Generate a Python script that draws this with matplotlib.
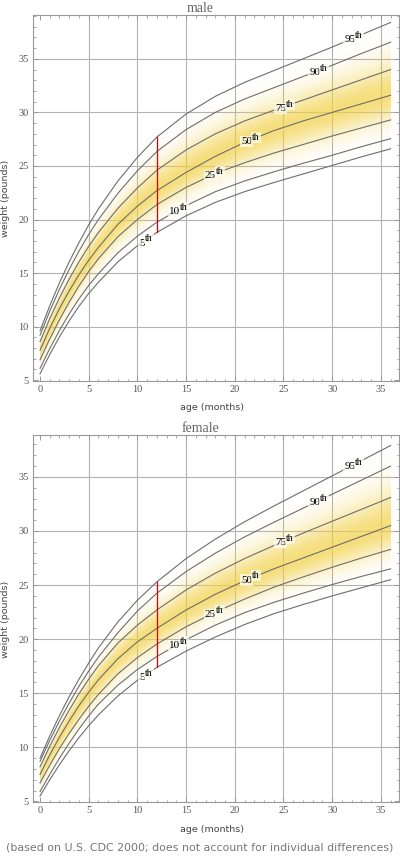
import numpy as np
import matplotlib
matplotlib.use('Agg')
import matplotlib.pyplot as plt
from matplotlib.ticker import MultipleLocator

# ages in months, weights in pounds
ages = [0, 1, 2, 3, 4, 5, 6, 8, 10, 12, 15, 18, 21, 24, 27, 30, 33, 36]
percentiles = [5, 10, 25, 50, 75, 90, 95]

male_p5 = [5.6, 7.4, 9.05, 10.55, 11.9, 13.1, 14.15, 16.05, 17.55, 18.8, 20.35, 21.6, 22.6, 23.45, 24.25, 25.05, 25.85, 26.6]
male_p10 = [6.1, 7.95, 9.65, 11.2, 12.6, 13.85, 14.95, 16.9, 18.45, 19.75, 21.3, 22.6, 23.6, 24.45, 25.25, 26.0, 26.8, 27.55]
male_p25 = [6.9, 8.85, 10.65, 12.3, 13.8, 15.15, 16.35, 18.4, 20.0, 21.4, 23.0, 24.3, 25.3, 26.2, 27.0, 27.8, 28.55, 29.3]
male_p50 = [7.8, 9.85, 11.7, 13.35, 14.85, 16.2, 17.4, 19.55, 21.25, 22.7, 24.4, 25.9, 27.2, 28.3, 29.2, 30.0, 30.8, 31.6]
male_p75 = [8.6, 10.75, 12.7, 14.45, 16.05, 17.5, 18.8, 21.05, 22.95, 24.6, 26.5, 28.0, 29.2, 30.2, 31.15, 32.1, 33.05, 34.0]
male_p90 = [9.2, 11.45, 13.5, 15.35, 17.05, 18.6, 20.0, 22.45, 24.55, 26.35, 28.4, 30.0, 31.25, 32.3, 33.35, 34.4, 35.5, 36.55]
male_p95 = [9.6, 11.95, 14.1, 16.05, 17.85, 19.5, 21.0, 23.6, 25.8, 27.7, 29.85, 31.5, 32.8, 33.9, 35.0, 36.1, 37.25, 38.4]

female_p5 = [5.5, 7.0, 8.4, 9.7, 10.9, 12.0, 13.0, 14.75, 16.2, 17.4, 18.9, 20.2, 21.35, 22.35, 23.2, 24.0, 24.75, 25.5]
female_p10 = [5.9, 7.5, 9.0, 10.4, 11.7, 12.9, 14.0, 15.75, 17.2, 18.4, 19.95, 21.3, 22.45, 23.4, 24.25, 25.05, 25.8, 26.5]
female_p25 = [6.7, 8.35, 9.9, 11.3, 12.6, 13.8, 14.9, 16.8, 18.3, 19.55, 21.15, 22.5, 23.7, 24.8, 25.75, 26.65, 27.5, 28.3]
female_p50 = [7.5, 9.3, 10.95, 12.45, 13.85, 15.1, 16.25, 18.2, 19.75, 21.0, 22.7, 24.15, 25.4, 26.5, 27.5, 28.5, 29.5, 30.5]
female_p75 = [8.2, 10.1, 11.85, 13.45, 14.95, 16.3, 17.55, 19.65, 21.3, 22.7, 24.55, 26.1, 27.45, 28.65, 29.8, 30.9, 32.0, 33.1]
female_p90 = [8.7, 10.65, 12.45, 14.1, 15.65, 17.05, 18.35, 20.6, 22.6, 24.25, 26.25, 27.95, 29.45, 30.8, 32.1, 33.4, 34.7, 36.0]
female_p95 = [9.0, 11.05, 12.95, 14.7, 16.3, 17.8, 19.2, 21.6, 23.6, 25.3, 27.45, 29.25, 30.85, 32.3, 33.7, 35.1, 36.5, 37.9]

label_ages = [10.7, 14.3, 18.0, 21.7, 25.2, 28.7, 32.3]
marker_age = 12

male = [male_p5, male_p10, male_p25, male_p50, male_p75, male_p90, male_p95]
female = [female_p5, female_p10, female_p25, female_p50, female_p75, female_p90, female_p95]


def draw_panel(ax, curves, ylim):
    ax.set_xlim(-0.72, 36.86)
    ax.set_ylim(*ylim)

    # yellow band around the median
    ag = np.linspace(0, 36, 300)
    wg = np.linspace(4, 40, 500)
    lo = np.interp(ag, ages, curves[0])
    med = np.interp(ag, ages, curves[3])
    hi = np.interp(ag, ages, curves[6])
    A, W = np.meshgrid(ag, wg)
    d = np.where(W >= med, (W - med) / (hi - med), (med - W) / (med - lo))
    img = np.zeros(W.shape + (4,))
    img[..., 0] = 0.95
    img[..., 1] = 0.82
    img[..., 2] = 0.28
    img[..., 3] = 0.72 * np.exp(-(2.2 * d) ** 2)
    ax.imshow(img, extent=[0, 36, 4, 40], origin='lower', aspect='auto',
              interpolation='bilinear', zorder=1)

    for v in range(5, 36, 5):
        ax.axvline(v, color='#b3b3b3', lw=0.8, zorder=0)
    for v in range(10, 40, 5):
        ax.axhline(v, color='#b3b3b3', lw=0.8, zorder=0)

    for c in curves:
        ax.plot(ages, c, color='#6e6e6e', lw=0.8, zorder=2)

    ax.plot([marker_age, marker_age],
            [np.interp(marker_age, ages, curves[0]), np.interp(marker_age, ages, curves[6])],
            color='#dd0000', lw=0.9, zorder=3)

    box = dict(boxstyle='square,pad=0.1', fc=(1, 1, 0.97, 0.7), ec='none')
    for p, c, a in zip(percentiles, curves, label_ages):
        y = np.interp(a, ages, c)
        ax.annotate(str(p), (a, y), xytext=(0.5, -1.5), textcoords='offset points',
                    family='Liberation Serif', fontsize=8, ha='right', va='center',
                    zorder=4, bbox=box)
        ax.annotate('th', (a, y), xytext=(0.5, 1.5), textcoords='offset points',
                    family='Liberation Serif', fontsize=7, ha='left', va='center',
                    zorder=4, bbox=box)

    ax.xaxis.set_major_locator(MultipleLocator(5))
    ax.xaxis.set_minor_locator(MultipleLocator(1))
    ax.yaxis.set_major_locator(MultipleLocator(5))
    ax.yaxis.set_minor_locator(MultipleLocator(1))
    ax.tick_params(which='both', direction='in', top=True, right=True, color='#999999')
    ax.tick_params(which='major', length=3.5, width=0.7, labelsize=7.5, labelcolor='#555555', pad=3)
    ax.tick_params(which='minor', length=1.8, width=0.6)
    for lab in ax.get_xticklabels() + ax.get_yticklabels():
        lab.set_family('Liberation Serif')
    for s in ax.spines.values():
        s.set_color('#999999')
        s.set_linewidth(0.8)


fig = plt.figure(figsize=(4, 8.58), dpi=100)
ax1 = fig.add_axes([0.0825, 0.556, 0.915, 0.4266])
ax2 = fig.add_axes([0.0825, 0.0653, 0.915, 0.4274])
draw_panel(ax1, male, (4.93, 39.1))
draw_panel(ax2, female, (4.95, 38.85))

fig.text(0.5, 1 - 8 / 858, 'male', family='Liberation Serif', fontsize=10,
         color='#666666', ha='center', va='center')
fig.text(0.5, 1 - 428 / 858, 'female', family='Liberation Serif', fontsize=10,
         color='#666666', ha='center', va='center')
fig.text(0.53, 1 - 408 / 858, 'age (months)', fontsize=6.8, color='#444444', ha='center', va='center')
fig.text(0.53, 1 - 830 / 858, 'age (months)', fontsize=6.8, color='#444444', ha='center', va='center')
fig.text(6 / 400, 1 - 198 / 858, 'weight (pounds)', fontsize=6.8, color='#444444',
         ha='center', va='center', rotation=90)
fig.text(6 / 400, 1 - 619 / 858, 'weight (pounds)', fontsize=6.8, color='#444444',
         ha='center', va='center', rotation=90)
fig.text(0.5, 1 - 848 / 858, '(based on U.S. CDC 2000; does not account for individual differences)',
         fontsize=7.9, color='#777777', ha='center', va='center')

fig.savefig('out.png', dpi=100)
